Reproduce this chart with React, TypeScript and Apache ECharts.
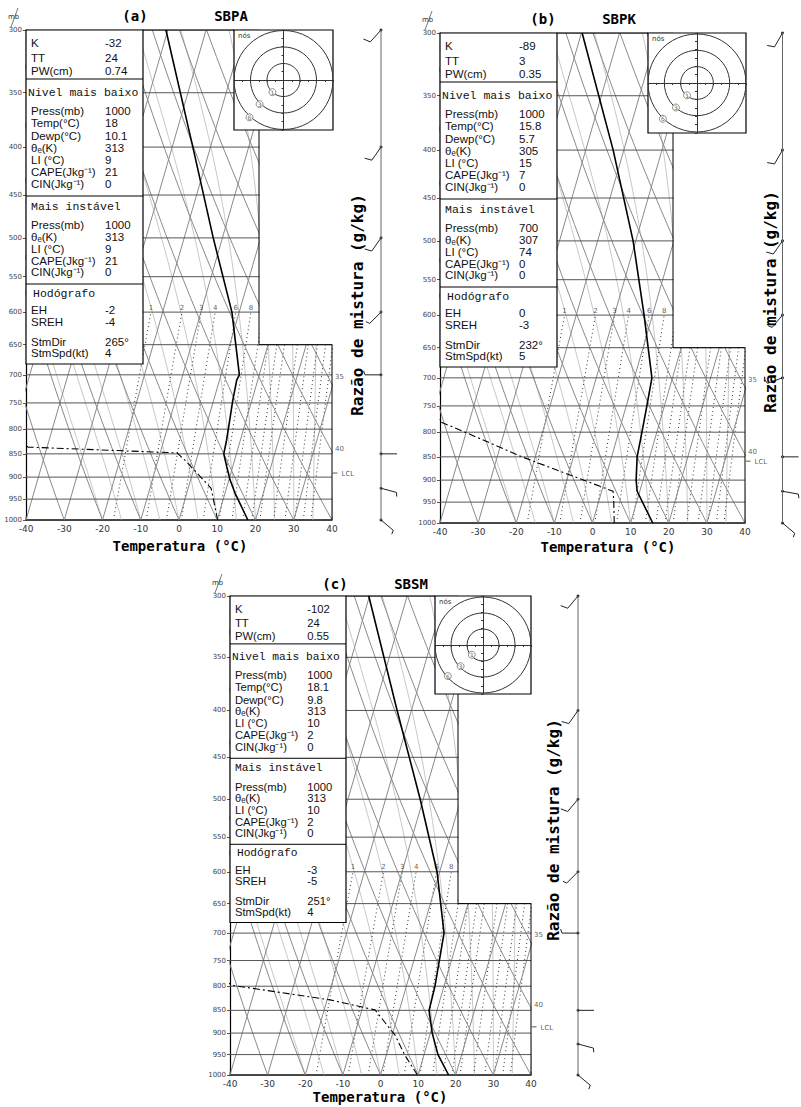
import React, { useEffect, useRef } from "react";
import * as echarts from "echarts";

// ---------- axis / background definitions ----------
const PRESSURE_LEVELS = [300, 350, 400, 450, 500, 550, 600, 650, 700, 750, 800, 850, 900, 950, 1000];
const ISOTHERMS = [-110, -100, -90, -80, -70, -60, -50, -40, -30, -20, -10, 0, 10, 20, 30, 40];
const DRY_ADIABATS = [-40, -30, -20, -10, 0, 10, 20, 30, 40, 50, 60, 70, 80, 90, 100, 110, 120, 130];
const MOIST_ADIABATS = [-20, -15, -10, -5, 0, 5, 10, 15, 20, 25, 30, 35, 40];
const MIXING_RATIOS = [1, 2, 3, 4, 6, 8, 10, 12, 14, 16, 20, 24, 28, 32, 36];
const MIXING_LABELED = [1, 2, 3, 4, 6, 8];

// ---------- panel (a) SBPA ----------
const A_T_P = [1000, 936, 906, 878, 850, 822, 782, 745, 709, 700, 600, 500, 400, 300];
const A_T = [18, 12.6, 10.3, 8.5, 6.7, 6.4, 5.7, 5.0, 4.5, 4.8, -1.9, -12.4, -24.6, -40.5];
const A_TD_P = [1000, 925, 863, 848, 836, 800, 750];
const A_TD = [10.1, 6.0, -3.0, -5.6, -45, -52, -58];
const A_WIND_P = [300, 400, 500, 600, 700, 850, 925, 1000];
const A_WIND_DIR = [222, 215, 215, 225, 270, 90, 105, 130];
const A_WIND_SPD = [10, 10, 10, 5, 5, 0, 5, 5];
const A_HODO_U = [-6.7, -14.5, -20.6];
const A_HODO_V = [-7.3, -14.5, -22.4];
const A_INDICES = ["-32", "24", "0.74"];
const A_LOWEST = ["1000", "18", "10.1", "313", "9", "21", "0"];
const A_UNSTABLE = ["1000", "313", "9", "21", "0"];
const A_HODOGRAPH = ["-2", "-4", "265°", "4"];
const A_LCL = 891;

// ---------- panel (b) SBPK ----------
const B_T_P = [1000, 925, 900, 850, 800, 750, 700, 600, 500, 400, 300];
const B_T = [15.8, 9.3, 8.2, 6.7, 6.1, 5.4, 4.6, -2.2, -10.7, -22.8, -39.8];
const B_TD_P = [1000, 950, 925, 850, 800, 780, 750];
const B_TD = [5.7, 4.0, 3.0, -23.5, -40.3, -47.5, -52];
const B_WIND_P = [300, 400, 500, 600, 700, 850, 925, 1000];
const B_WIND_DIR = [210, 210, 215, 220, 250, 90, 100, 130];
const B_WIND_SPD = [10, 10, 10, 5, 5, 0, 5, 5];
const B_HODO_U = [-6.1, -12.9, -20.9];
const B_HODO_V = [-7.4, -14.7, -21.5];
const B_INDICES = ["-89", "3", "0.35"];
const B_LOWEST = ["1000", "15.8", "5.7", "305", "15", "7", "0"];
const B_UNSTABLE = ["700", "307", "74", "0", "0"];
const B_HODOGRAPH = ["0", "-3", "232°", "5"];
const B_LCL = 859;

// ---------- panel (c) SBSM ----------
const C_T_P = [1000, 950, 900, 850, 800, 700, 600, 500, 400, 300];
const C_T = [18.1, 13.7, 10.5, 7.9, 7.6, 5.9, -0.7, -10.8, -23.8, -40.2];
const C_TD_P = [1000, 951, 904, 849, 828, 798, 760];
const C_TD = [9.8, 4.9, 0.7, -6.5, -19.2, -46.5, -55];
const C_WIND_P = [300, 400, 500, 600, 700, 850, 925, 1000];
const C_WIND_DIR = [220, 215, 220, 225, 270, 90, 105, 130];
const C_WIND_SPD = [10, 10, 10, 5, 5, 0, 5, 5];
const C_HODO_U = [-7, -14, -22];
const C_HODO_V = [-6, -13, -19];
const C_INDICES = ["-102", "24", "0.55"];
const C_LOWEST = ["1000", "18.1", "9.8", "313", "10", "2", "0"];
const C_UNSTABLE = ["1000", "313", "10", "2", "0"];
const C_HODOGRAPH = ["-3", "-5", "251°", "4"];
const C_LCL = 886;

const HODO_LABELS = ["1", "3", "6"];
const HODO_RINGS = [10, 20, 30];

const LABELS_1 = ["K", "TT", "PW(cm)"];
const LABELS_2 = ["Press(mb)", "Temp(°C)", "Dewp(°C)", "θₑ(K)", "LI (°C)", "CAPE(Jkg⁻¹)", "CIN(Jkg⁻¹)"];
const LABELS_3 = ["Press(mb)", "θₑ(K)", "LI (°C)", "CAPE(Jkg⁻¹)", "CIN(Jkg⁻¹)"];
const LABELS_4 = ["EH", "SREH", "StmDir", "StmSpd(kt)"];

// ---------- helpers ----------
const SKEW = 30.8;
const LN300 = Math.log(300);
const LN1000 = Math.log(1000);
const lp = (p: number) => Math.log(p);
const skewX = (t: number, p: number) => t + SKEW * Math.log(1000 / p);

function pLevels(top: number, step: number) {
  const out: number[] = [];
  for (let p = 1000; p >= top; p -= step) out.push(p);
  return out;
}
function dryAdiabat(thC: number) {
  return pLevels(300, 20).map((p) => {
    const t = (thC + 273.15) * Math.pow(p / 1000, 0.2857) - 273.15;
    return [skewX(t, p), lp(p)];
  });
}
function moistRate(T: number, p: number) {
  const tc = T - 273.15;
  const es = 6.112 * Math.exp((17.67 * tc) / (tc + 243.5));
  const rs = (0.622 * es) / (p - es);
  const Lv = 2.501e6;
  return ((287.04 * T + Lv * rs) / (1005.7 + (Lv * Lv * rs * 0.622) / (287.04 * T * T))) / p;
}
function moistAdiabat(t0: number) {
  const pts: number[][] = [];
  let T = t0 + 273.15;
  const dp = -10;
  for (let p = 1000; p >= 300; p += dp) {
    pts.push([skewX(T - 273.15, p), lp(p)]);
    const k1 = moistRate(T, p);
    const k2 = moistRate(T + (k1 * dp) / 2, p + dp / 2);
    T += k2 * dp;
  }
  return pts;
}
function mixingTd(w: number, p: number) {
  const e = (w * p) / (622 + w);
  const a = Math.log(e / 6.112);
  return (243.5 * a) / (17.67 - a);
}

type Panel = {
  tag: string; station: string;
  left: number; top: number; width: number; height: number;
  boxW: number; hodoLeft: number; hodoW: number; hodoH: number; edgeX: number; staffX: number;
  titleX: number; stationX: number; titleY: number; xTitleX: number; xTitleY: number; rTitleX: number; rTitleY: number;
  tP: number[]; t: number[]; tdP: number[]; td: number[];
  wP: number[]; wDir: number[]; wSpd: number[]; hU: number[]; hV: number[];
  idx: string[]; low: string[]; mu: string[]; hodo: string[]; lcl: number;
};

const PANELS: Panel[] = [
  {
    tag: "(a)", station: "SBPA", left: 26, top: 30, width: 306, height: 490,
    boxW: 117, hodoLeft: 234, hodoW: 99, hodoH: 100, edgeX: 259, staffX: 381,
    titleX: 135, stationX: 231, titleY: 16, xTitleX: 180, xTitleY: 546, rTitleX: 357, rTitleY: 305,
    tP: A_T_P, t: A_T, tdP: A_TD_P, td: A_TD, wP: A_WIND_P, wDir: A_WIND_DIR, wSpd: A_WIND_SPD,
    hU: A_HODO_U, hV: A_HODO_V, idx: A_INDICES, low: A_LOWEST, mu: A_UNSTABLE, hodo: A_HODOGRAPH, lcl: A_LCL,
  },
  {
    tag: "(b)", station: "SBPK", left: 440, top: 33, width: 305, height: 490,
    boxW: 117, hodoLeft: 648, hodoW: 98, hodoH: 100, edgeX: 673, staffX: 794,
    titleX: 543, stationX: 619, titleY: 19, xTitleX: 608, xTitleY: 547, rTitleX: 770, rTitleY: 302,
    tP: B_T_P, t: B_T, tdP: B_TD_P, td: B_TD, wP: B_WIND_P, wDir: B_WIND_DIR, wSpd: B_WIND_SPD,
    hU: B_HODO_U, hV: B_HODO_V, idx: B_INDICES, low: B_LOWEST, mu: B_UNSTABLE, hodo: B_HODOGRAPH, lcl: B_LCL,
  },
  {
    tag: "(c)", station: "SBSM", left: 230, top: 596, width: 301, height: 479,
    boxW: 116, hodoLeft: 435, hodoW: 96, hodoH: 98, edgeX: 458, staffX: 578,
    titleX: 335, stationX: 411, titleY: 584, xTitleX: 380, xTitleY: 1097, rTitleX: 553, rTitleY: 830,
    tP: C_T_P, t: C_T, tdP: C_TD_P, td: C_TD, wP: C_WIND_P, wDir: C_WIND_DIR, wSpd: C_WIND_SPD,
    hU: C_HODO_U, hV: C_HODO_V, idx: C_INDICES, low: C_LOWEST, mu: C_UNSTABLE, hodo: C_HODOGRAPH, lcl: C_LCL,
  },
];

const MONO = "'DejaVu Sans Mono', monospace";
const SANS = "'DejaVu Sans', sans-serif";
const LSANS = "'Liberation Sans', Arial, sans-serif";
const SERIFMONO = "'Liberation Mono', monospace";

function barbRender(params: any, api: any) {
  const p = api.value(0) as number;
  const dir = api.value(1) as number;
  const spd = api.value(2) as number;
  const c = api.coord([0, p]);
  const rad = (dir * Math.PI) / 180;
  const ux = Math.sin(rad);
  const uy = -Math.cos(rad);
  // feathers on the right-hand side of the staff (looking from station to tip)
  const nx = -uy;
  const ny = ux;
  const L = 16;
  const st = { stroke: "#222", lineWidth: 1 };
  const children: any[] = [
    { type: "line", shape: { x1: c[0], y1: c[1], x2: c[0] + ux * L, y2: c[1] + uy * L }, style: st },
  ];
  let rem = Math.round(spd / 5) * 5;
  let pos = L;
  const feather = (at: number, len: number) => {
    const bx = c[0] + ux * at;
    const by = c[1] + uy * at;
    children.push({
      type: "line",
      shape: { x1: bx, y1: by, x2: bx + nx * len + ux * len * 0.35, y2: by + ny * len + uy * len * 0.35 },
      style: st,
    });
  };
  while (rem >= 10) { feather(pos, 7); pos -= 3; rem -= 10; }
  if (rem >= 5) feather(pos, 4);
  return { type: "group", children };
}

function ringRender(params: any, api: any) {
  const c = api.coord([0, 0]);
  const r = api.size([api.value(0), 0])[0];
  return { type: "circle", shape: { cx: c[0], cy: c[1], r }, style: { fill: "none", stroke: "#333", lineWidth: 1 } };
}

function buildOption() {
  const grid: any[] = [];
  const xAxis: any[] = [];
  const yAxis: any[] = [];
  const series: any[] = [];
  const graphic: any[] = [];
  const pTicks = PRESSURE_LEVELS.map(lp);
  const smallLabel = { fontSize: 7, color: "#333", fontFamily: SANS, textBorderWidth: 0 };

  PANELS.forEach((P) => {
    // ---- diagram grid ----
    const g = grid.length;
    grid.push({ left: P.left, top: P.top, width: P.width, height: P.height });
    xAxis.push({
      gridIndex: g, type: "value", min: -40, max: 40, interval: 10,
      axisLine: { show: true, onZero: false, lineStyle: { color: "#000", width: 1.5 } },
      axisTick: { show: false }, splitLine: { show: false },
      axisLabel: { fontSize: 9, color: "#333", margin: 4, fontFamily: SANS },
    });
    yAxis.push({
      gridIndex: g, type: "value", inverse: true, min: LN300, max: LN1000,
      axisLine: { show: true, onZero: false, lineStyle: { color: "#000", width: 1.2 } },
      axisTick: { show: true, length: 3, customValues: pTicks, lineStyle: { color: "#555" } },
      axisLabel: {
        customValues: pTicks, fontSize: 7, color: "#444", margin: 4, fontFamily: SANS,
        formatter: (v: number) => String(Math.round(Math.exp(v))),
      },
      splitLine: { show: false },
    });
    const ax = { coordinateSystem: "cartesian2d", xAxisIndex: g, yAxisIndex: g };

    series.push({
      type: "lines", ...ax, polyline: true, clip: true, silent: true, z: 2,
      lineStyle: { color: "#c8c8c8", width: 1, opacity: 1 },
      data: MOIST_ADIABATS.map((t) => ({ coords: moistAdiabat(t) })),
    });
    series.push({
      type: "lines", ...ax, polyline: true, clip: true, silent: true, z: 2,
      lineStyle: { color: "#333", width: 1, type: [1, 3], opacity: 1 },
      data: MIXING_RATIOS.map((w) => ({ coords: pLevels(600, 20).map((p) => [skewX(mixingTd(w, p), p), lp(p)]) })),
    });
    series.push({
      type: "lines", ...ax, polyline: true, clip: true, silent: true, z: 2,
      lineStyle: { color: "#8a8a8a", width: 1, opacity: 1 },
      data: ISOTHERMS.map((t) => ({ coords: [[skewX(t, 1000), LN1000], [skewX(t, 300), LN300]] })),
    });
    series.push({
      type: "lines", ...ax, polyline: true, clip: true, silent: true, z: 2,
      lineStyle: { color: "#8a8a8a", width: 1, opacity: 1 },
      data: DRY_ADIABATS.map((t) => ({ coords: dryAdiabat(t) })),
    });
    series.push({
      type: "lines", ...ax, polyline: true, clip: true, silent: true, z: 3,
      lineStyle: { color: "#555", width: 1, opacity: 1 },
      data: PRESSURE_LEVELS.map((p) => ({ coords: [[-40, lp(p)], [40, lp(p)]] })),
    });
    series.push({
      type: "scatter", ...ax, symbolSize: 0, silent: true, z: 4,
      data: MIXING_LABELED.map((w) => [skewX(mixingTd(w, 600), 600), lp(600)]),
      label: {
        show: true, position: "top", distance: 1, ...smallLabel,
        formatter: (d: any) => String(MIXING_LABELED[d.dataIndex]),
      },
    });
    series.push({
      type: "line", ...ax, symbol: "none", silent: true, z: 5,
      lineStyle: { color: "#000", width: 1.1, type: [7, 3, 2, 3] },
      data: P.tdP.map((p, i) => [skewX(P.td[i], p), lp(p)]),
    });
    series.push({
      type: "line", ...ax, symbol: "none", silent: true, z: 5,
      lineStyle: { color: "#000", width: 1.6 },
      data: P.tP.map((p, i) => [skewX(P.t[i], p), lp(p)]),
    });
    series.push({
      type: "scatter", ...ax, silent: true, z: 12, clip: false,
      symbol: "rect", symbolSize: [5, 1], symbolOffset: [3, 0],
      itemStyle: { color: "#333" },
      data: [[40, lp(P.lcl)]],
      label: { show: true, position: "right", distance: 4, offset: [0, 1], ...smallLabel, formatter: "LCL" },
    });
    series.push({
      type: "scatter", ...ax, silent: true, z: 12, symbolSize: 0, clip: false,
      data: [[40, lp(700), "35", 2], [40, lp(850), "40", -5]],
      label: {
        show: true, position: "right", distance: 3, ...smallLabel,
        formatter: (d: any) => d.value[2],
      },
      labelLayout: (prm: any) => ({ dy: prm.dataIndex === 0 ? 2 : -5 }),
    });

    // ---- wind barb column ----
    const gb = grid.length;
    grid.push({ left: P.staffX - 30, top: P.top, width: 60, height: P.height });
    xAxis.push({ gridIndex: gb, type: "value", min: -1, max: 1, show: false });
    yAxis.push({ gridIndex: gb, type: "value", inverse: true, min: LN300, max: LN1000, show: false });
    series.push({
      type: "line", xAxisIndex: gb, yAxisIndex: gb, symbol: "none", silent: true,
      lineStyle: { color: "#666", width: 1 },
      data: [[0, LN300], [0, LN1000]],
    });
    series.push({
      type: "custom", xAxisIndex: gb, yAxisIndex: gb, silent: true, renderItem: barbRender,
      data: P.wP.map((p, i) => [lp(p), P.wDir[i], P.wSpd[i]]),
    });
    series.push({
      type: "scatter", xAxisIndex: gb, yAxisIndex: gb, silent: true, symbolSize: 3,
      itemStyle: { color: "#000" },
      data: P.wP.map((p) => [0, lp(p)]),
    });

    // ---- hodograph ----
    const gh = grid.length;
    grid.push({ left: P.hodoLeft, top: P.top, width: P.hodoW, height: P.hodoH });
    const hAxis = {
      gridIndex: gh, type: "value", min: -30, max: 30, interval: 5,
      axisLine: { show: true, onZero: true, lineStyle: { color: "#333", width: 1 } },
      axisTick: { show: true, length: 2, lineStyle: { color: "#333" } },
      axisLabel: { show: false }, splitLine: { show: false }, z: 21,
    };
    xAxis.push({ ...hAxis });
    yAxis.push({ ...hAxis });
    series.push({
      type: "custom", xAxisIndex: gh, yAxisIndex: gh, silent: true, clip: true, z: 20,
      renderItem: ringRender, data: HODO_RINGS.map((r) => [r]),
    });
    series.push({
      type: "scatter", xAxisIndex: gh, yAxisIndex: gh, silent: true, z: 22,
      symbol: "circle", symbolSize: 7, itemStyle: { color: "#fff", borderColor: "#555", borderWidth: 0.8 },
      data: P.hU.map((u, i) => [u, P.hV[i]]),
      label: {
        show: true, position: "inside", fontSize: 6, color: "#444", fontFamily: SANS, textBorderWidth: 0,
        formatter: (d: any) => HODO_LABELS[d.dataIndex],
      },
    });

    // ---- graphics ----
    const s = P.height / 490;
    const bx = P.left, by = P.top, bw = P.boxW;
    const yy = (v: number) => by + v * s;
    const right = P.left + P.width;
    const stepY = P.top + ((lp(650) - LN300) / (LN1000 - LN300)) * P.height;
    graphic.push({ type: "rect", z: 10, silent: true, shape: { x: P.edgeX + 0.5, y: P.top - 1, width: right - P.edgeX + 4, height: stepY - P.top + 0.5 }, style: { fill: "#fff" } });
    graphic.push({ type: "polyline", z: 11, silent: true, shape: { points: [[P.edgeX, P.top + P.hodoH], [P.edgeX, stepY], [right, stepY], [right, P.top + P.height]] }, style: { stroke: "#000", lineWidth: 1, fill: null } });
    graphic.push({ type: "line", z: 11, silent: true, shape: { x1: bx + bw, y1: P.top, x2: P.hodoLeft, y2: P.top }, style: { stroke: "#000", lineWidth: 1.2 } });
    graphic.push({ type: "rect", z: 15, silent: true, shape: { x: P.hodoLeft, y: P.top, width: P.hodoW, height: P.hodoH }, style: { fill: "#fff", stroke: "#000", lineWidth: 1.2 } });
    graphic.push({ type: "text", z: 23, silent: true, x: P.hodoLeft + 4, y: P.top + 6, style: { text: "nós", fontSize: 7, fill: "#333", fontFamily: SANS, verticalAlign: "middle" } });
    graphic.push({ type: "rect", z: 10, silent: true, shape: { x: bx, y: by, width: bw, height: 334 * s }, style: { fill: "#fff", stroke: "#000", lineWidth: 1.2 } });
    [49, 166, 254].forEach((d) => graphic.push({ type: "line", z: 11, silent: true, shape: { x1: bx, y1: yy(d), x2: bx + bw, y2: yy(d) }, style: { stroke: "#000", lineWidth: 1 } }));
    const txt = (x: number, y: number, t: string, font: string, size: number) =>
      graphic.push({ type: "text", z: 12, silent: true, x, y, style: { text: t, fontSize: size, lineHeight: size, fill: "#111", fontFamily: font, verticalAlign: "middle" } });
    const lx = bx + 5 * s, vx = bx + 79 * s;
    const fs = 11.5 * s;
    const hs = 11.5 * s;
    const r1 = [13, 28, 41], r2 = [81, 93, 106, 118, 130, 142, 154], r3 = [195, 207, 219, 231, 242], r4 = [280, 292, 312, 323];
    LABELS_1.forEach((l, i) => { txt(lx, yy(r1[i]), l, LSANS, fs); txt(vx, yy(r1[i]), P.idx[i], LSANS, fs); });
    txt(lx - 3, yy(62), "Nivel mais baixo", SERIFMONO, hs);
    LABELS_2.forEach((l, i) => { txt(lx, yy(r2[i]), l, LSANS, fs); txt(vx, yy(r2[i]), P.low[i], LSANS, fs); });
    txt(lx, yy(176), "Mais instável", SERIFMONO, hs);
    LABELS_3.forEach((l, i) => { txt(lx, yy(r3[i]), l, LSANS, fs); txt(vx, yy(r3[i]), P.mu[i], LSANS, fs); });
    txt(lx + 2, yy(263), "Hodógrafo", SERIFMONO, hs);
    LABELS_4.forEach((l, i) => { txt(lx, yy(r4[i]), l, LSANS, fs); txt(vx, yy(r4[i]), P.hodo[i], LSANS, fs); });
    const bold = (x: number, y: number, t: string, size: number, rot = 0) =>
      graphic.push({ type: "text", z: 12, silent: true, x, y, rotation: rot, style: { text: t, fontSize: size, fontWeight: "bold", fill: "#000", fontFamily: MONO, align: "center", verticalAlign: "middle" } });
    bold(P.titleX, P.titleY, P.tag, 14);
    bold(P.stationX, P.titleY, P.station, 14);
    bold(P.xTitleX, P.xTitleY, "Temperatura (°C)", 14);
    bold(P.rTitleX, P.rTitleY, "Razão de mistura (g/kg)", 16, Math.PI / 2);
    graphic.push({ type: "text", z: 12, silent: true, x: P.left - 18, y: P.top - 17, style: { text: "mb", fontSize: 7, fill: "#333", fontFamily: SANS } });
    graphic.push({ type: "line", z: 12, silent: true, shape: { x1: P.left - 15, y1: P.top - 3, x2: P.left - 8, y2: P.top - 22 }, style: { stroke: "#555", lineWidth: 0.8 } });
  });

  return { animation: false, backgroundColor: "#fff", grid, xAxis, yAxis, series, graphic };
}

export default function App() {
  const ref = useRef<HTMLDivElement>(null);
  useEffect(() => {
    document.body.style.margin = "0";
    const chart = echarts.init(ref.current!, null, { renderer: "svg" });
    chart.setOption(buildOption() as any);
    return () => chart.dispose();
  }, []);
  return <div ref={ref} style={{ width: 801, height: 1107 }} />;
}
